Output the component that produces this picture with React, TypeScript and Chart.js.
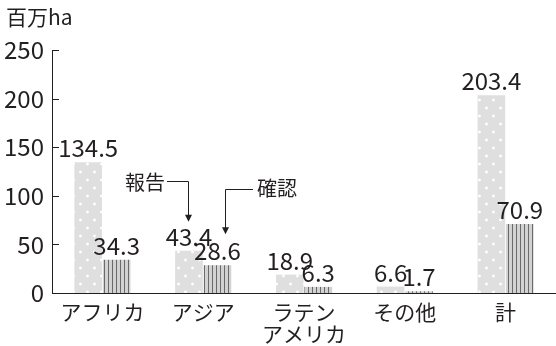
import React, { useEffect, useRef } from 'react';
import { Chart, registerables } from 'chart.js';

Chart.register(...registerables);

const categories: (string | string[])[] = ['アフリカ', 'アジア', ['ラテン', 'アメリカ'], 'その他', '計'];
const reported = [134.5, 43.4, 18.9, 6.6, 203.4];
const confirmed = [34.3, 28.6, 6.3, 1.7, 70.9];
const yTicks = [0, 50, 100, 150, 200, 250];
const unitLabel = '百万ha';
const reportLabel = '報告';
const confirmLabel = '確認';

const FONT = '"Noto Sans CJK JP", "Noto Sans", sans-serif';
const INK = '#231f20';

function dotPattern(ctx: CanvasRenderingContext2D) {
  const c = document.createElement('canvas');
  c.width = 14;
  c.height = 16;
  const g = c.getContext('2d')!;
  g.fillStyle = '#dfdfdf';
  g.fillRect(0, 0, 14, 16);
  g.fillStyle = '#ffffff';
  g.beginPath();
  g.arc(3.5, 4, 1.4, 0, Math.PI * 2);
  g.arc(10.5, 12, 1.4, 0, Math.PI * 2);
  g.fill();
  return ctx.createPattern(c, 'repeat')!;
}

function linePattern(ctx: CanvasRenderingContext2D) {
  const c = document.createElement('canvas');
  c.width = 4;
  c.height = 4;
  const g = c.getContext('2d')!;
  g.fillStyle = '#d2d2d2';
  g.fillRect(0, 0, 4, 4);
  g.fillStyle = '#6a6a6a';
  g.fillRect(0, 0, 1, 4);
  return ctx.createPattern(c, 'repeat')!;
}

const decor = {
  id: 'decor',
  afterDraw(chart: any) {
    const ctx = chart.ctx as CanvasRenderingContext2D;
    const area = chart.chartArea;
    const y = chart.scales.y;
    ctx.save();
    // inward ticks
    ctx.strokeStyle = INK;
    ctx.lineWidth = 1;
    yTicks.forEach((v) => {
      const py = Math.round(y.getPixelForValue(v)) + 0.5;
      ctx.beginPath();
      ctx.moveTo(area.left, py);
      ctx.lineTo(area.left + 7, py);
      ctx.stroke();
    });
    // unit label
    ctx.fillStyle = INK;
    ctx.font = `21px ${FONT}`;
    ctx.textAlign = 'left';
    ctx.textBaseline = 'middle';
    ctx.fillText(unitLabel, 6, 17);

    // value labels
    ctx.font = `24px ${FONT}`;
    ctx.textAlign = 'center';
    ctx.textBaseline = 'alphabetic';
    chart.data.datasets.forEach((ds: any, di: number) => {
      const meta = chart.getDatasetMeta(di);
      meta.data.forEach((bar: any, i: number) => {
        ctx.fillText(ds.data[i].toFixed(1), bar.x, bar.y - 5);
      });
    });

    // annotations
    const rBar = chart.getDatasetMeta(0).data[1];
    const cBar = chart.getDatasetMeta(1).data[1];
    ctx.strokeStyle = INK;
    ctx.fillStyle = INK;
    ctx.font = `20px ${FONT}`;
    // 報告
    const rx = Math.round(rBar.x) - 0.5;
    const rTip = rBar.y - 29;
    ctx.textAlign = 'right';
    ctx.textBaseline = 'middle';
    ctx.fillText(reportLabel, 165, 182);
    ctx.beginPath();
    ctx.moveTo(167, 181.5);
    ctx.lineTo(rx, 181.5);
    ctx.lineTo(rx, rTip - 6);
    ctx.stroke();
    ctx.beginPath();
    ctx.moveTo(rx - 3.5, rTip - 7);
    ctx.lineTo(rx + 3.5, rTip - 7);
    ctx.lineTo(rx, rTip);
    ctx.closePath();
    ctx.fill();
    // 確認
    const cx = Math.round(cBar.x + 8) + 0.5;
    const cTip = cBar.y - 31;
    ctx.textAlign = 'left';
    ctx.fillText(confirmLabel, 257, 188);
    ctx.beginPath();
    ctx.moveTo(253, 189.5);
    ctx.lineTo(cx, 189.5);
    ctx.lineTo(cx, cTip - 6);
    ctx.stroke();
    ctx.beginPath();
    ctx.moveTo(cx - 3.5, cTip - 7);
    ctx.lineTo(cx + 3.5, cTip - 7);
    ctx.lineTo(cx, cTip);
    ctx.closePath();
    ctx.fill();
    ctx.restore();
  },
};

export default function App() {
  const ref = useRef<HTMLCanvasElement | null>(null);
  useEffect(() => {
    document.body.style.margin = '0';
    const canvas = ref.current!;
    const ctx = canvas.getContext('2d')!;
    const chart = new Chart(ctx, {
      type: 'bar',
      data: {
        labels: categories as any,
        datasets: [
          {
            label: reportLabel,
            data: reported,
            backgroundColor: dotPattern(ctx),
            borderWidth: 0,
            categoryPercentage: 0.565,
            barPercentage: 0.97,
          },
          {
            label: confirmLabel,
            data: confirmed,
            backgroundColor: linePattern(ctx),
            borderWidth: 0,
            categoryPercentage: 0.565,
            barPercentage: 0.97,
          },
        ],
      },
      options: {
        responsive: false,
        animation: false,
        layout: { padding: { top: 50, right: -3, left: 0, bottom: 0 } },
        plugins: {
          legend: { display: false },
          tooltip: { enabled: false },
        },
        scales: {
          x: {
            grid: { display: false, drawTicks: false },
            border: { display: true, color: INK, width: 1 },
            ticks: {
              color: INK,
              font: { family: FONT, size: 21, lineHeight: 1.05 },
              padding: 8,
              maxRotation: 0,
              autoSkip: false,
            },
            afterFit: (s: any) => {
              s.height = 53;
            },
          },
          y: {
            min: 0,
            max: 250,
            afterBuildTicks: (s: any) => {
              s.ticks = yTicks.map((v) => ({ value: v }));
            },
            grid: { display: false, drawTicks: false },
            border: { display: true, color: INK, width: 1 },
            ticks: {
              color: INK,
              font: { family: FONT, size: 24 },
              padding: 8,
            },
            afterFit: (s: any) => {
              s.width = 52;
            },
          },
        },
      },
      plugins: [decor],
    });
    return () => chart.destroy();
  }, []);
  return (
    <div style={{ width: 556, height: 346 }}>
      <canvas ref={ref} width={556} height={346} style={{ display: 'block' }} />
    </div>
  );
}
